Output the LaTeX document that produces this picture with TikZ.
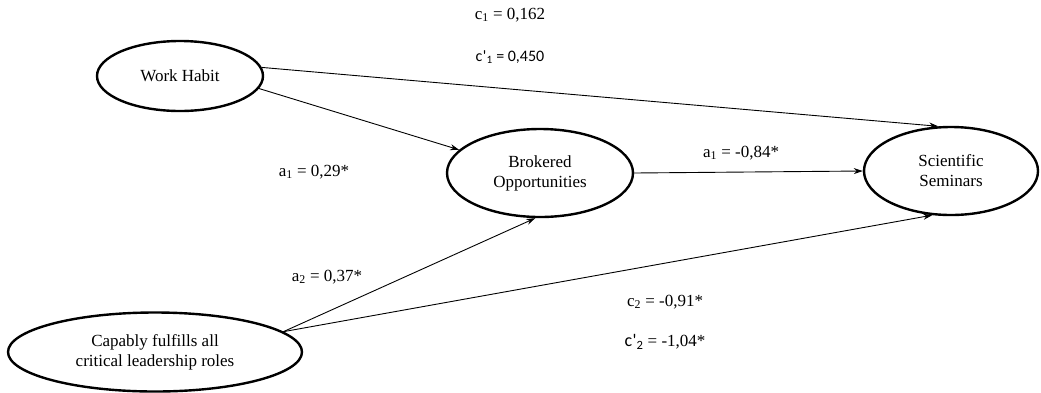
\documentclass[tikz,border=0pt]{standalone}
\usepackage{fontspec}
\setmainfont{Liberation Serif}
\newfontfamily\calfont{Carlito}
\usetikzlibrary{shapes.geometric,arrows.meta}
\begin{document}
\begin{tikzpicture}[x=1pt,y=-1pt,
  var/.style={ellipse,draw,line width=2.4pt,inner sep=0pt,align=center,font=\fontsize{17}{20}\selectfont},
  path/.style={-{Stealth[length=9pt,width=6pt]},line width=0.9pt},
  lab/.style={font=\fontsize{17}{20}\selectfont,inner sep=0pt}]
\useasboundingbox (0,0) rectangle (1041,392);
\node[var,minimum width=166pt,minimum height=70pt] (wh) at (180,76) {Work Habit};
\node[var,minimum width=186pt,minimum height=88pt] (bo) at (540,173) {Brokered\\Opportunities};
\node[var,minimum width=174pt,minimum height=88pt] (sc) at (951,171) {Scientific\\Seminars};
\node[var,minimum width=294pt,minimum height=79pt] (cap) at (155,352) {Capably fulfills all\\critical leadership roles};
\coordinate (capo) at (cap.9);
\draw[path] (wh.6) -- (sc.106);
\draw[path] (wh.-9) -- (bo.164);
\draw[path] (bo.east) -- (sc.west);
\draw[path] (capo) -- (bo.-96);
\draw[path] (capo) -- (sc.-113);
\node[lab] (c1) at (510,15) {c\textsubscript{1} = 0,162};
\node[lab] (c1p) at (510,57) {\calfont\fontsize{16}{20}\selectfont c\kern0.5pt\textquotesingle\textsubscript{1} = 0,450};
\node[lab] (a1) at (314,172) {a\textsubscript{1} = 0,29*};
\node[lab] (a2) at (327,277) {a\textsubscript{2} = 0,37*};
\node[lab] (b1) at (741,153) {a\textsubscript{1} = -0,84*};
\node[lab] (c2) at (665,302) {c\textsubscript{2} = -0,91*};
\node[lab] (c2p) at (665,342) {{\calfont\fontsize{18}{20}\selectfont c\kern0.5pt\textquotesingle\textsubscript{2}} = -1,04*};
\end{tikzpicture}
\end{document}
